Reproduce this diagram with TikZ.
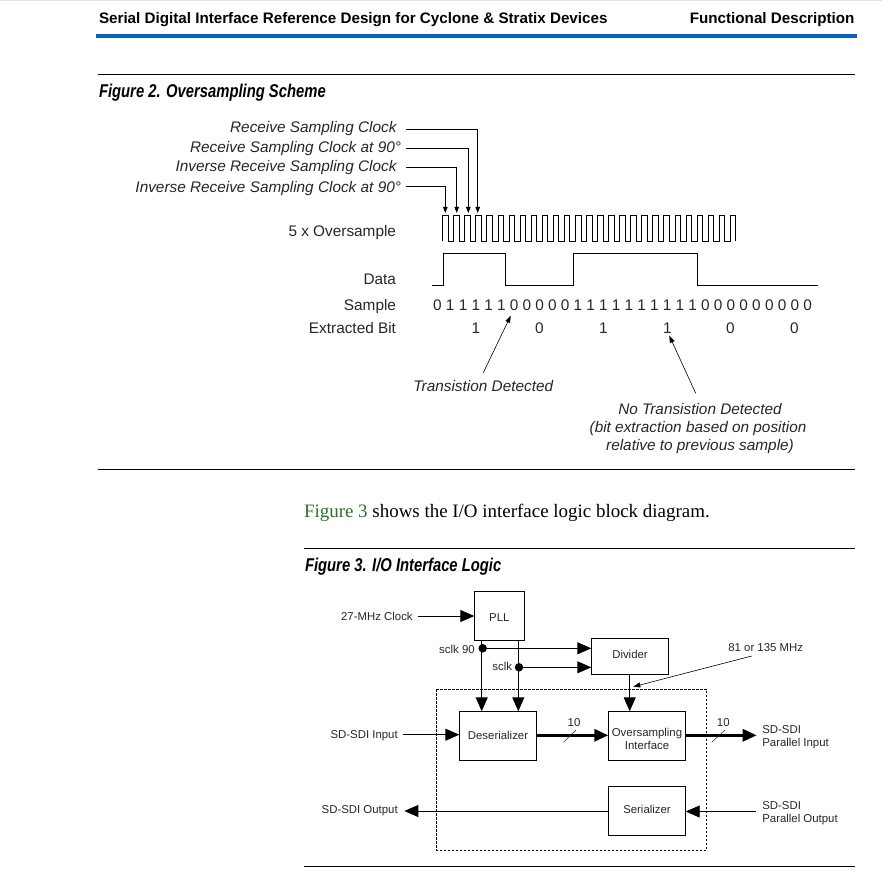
\documentclass[tikz,border=0pt]{standalone}
\usepackage{fontspec}
\setmainfont{Liberation Sans}
\newfontfamily\narrowfig[FakeStretch=0.8]{Liberation Sans}
\newfontfamily\bodyserif{Liberation Serif}
\usetikzlibrary{arrows.meta,calc}
\definecolor{ink}{gray}{0.15}
\definecolor{rulebar}{HTML}{0A62C0}
\definecolor{linkgreen}{HTML}{2F6F2F}
\tikzset{
  x=1pt,y=-1pt,
  every node/.style={inner sep=0pt,outer sep=0pt,text=ink},
  figa/.style={yshift=-3pt,font=\fontsize{15.35}{18}\selectfont},
  figai/.style={yshift=-3pt,font=\fontsize{15.35}{18}\selectfont\itshape},
  figb/.style={yshift=-2pt,font=\fontsize{11.4}{13}\selectfont},
  wire/.style={draw=black,line width=0.9pt},
  thinarrow/.style={wire,-{Triangle[length=6pt,width=4.5pt]}},
  bigarrow/.style={wire,-{Triangle[length=14pt,width=12pt]}},
  thickarrow/.style={draw=black,line width=3pt,-{Triangle[length=14pt,width=12pt]}},
  pointer/.style={draw=black,line width=0.6pt,-{Triangle[length=7pt,width=5pt]}},
  blockbox/.style={draw=black,line width=0.9pt,font=\fontsize{11.4}{13}\selectfont,anchor=north west,align=center},
  rulel/.style={draw=black,line width=1pt},
  dotmark/.style={circle,fill=black,minimum size=8.5pt},
  figtitle/.style={yshift=-3.5pt,anchor=mid west,text=black,font=\fontsize{18.5}{20}\narrowfig\bfseries\itshape},
  headtext/.style={yshift=-3pt,text=black,font=\fontsize{15.2}{17}\selectfont\bfseries},
}
\begin{document}
\begin{tikzpicture}
\useasboundingbox (0,0) rectangle (882,877);
\fill[gray!25] (0,0) rectangle (882,1.2);
% header
\node[headtext,anchor=mid west] (hleft) at (99,18) {Serial Digital Interface Reference Design for Cyclone \& Stratix Devices};
\node[headtext,anchor=mid east] (hright) at (854.5,18) {Functional Description};
\fill[rulebar] (96,34) rectangle (857,38);
\draw[rulel] (98,74.4) -- (855,74.4);
\node[figtitle] (t2) at (99,91) {Figure 2. Oversampling Scheme};
% figure 2 labels
\node[figai,anchor=mid east] (c1) at (396.5,127) {Receive Sampling Clock};
\node[figai,anchor=mid east] (c2) at (401,147) {Receive Sampling Clock at 90°};
\node[figai,anchor=mid east] (c3) at (396.5,166) {Inverse Receive Sampling Clock};
\node[figai,anchor=mid east] (c4) at (401,187) {Inverse Receive Sampling Clock at 90°};
\coordinate (c1s) at (406,129.3); \coordinate (c1t) at (477.7,213);
\coordinate (c2s) at (406,148.3); \coordinate (c2t) at (468.3,213);
\coordinate (c3s) at (406,167.3); \coordinate (c3t) at (456.7,213);
\coordinate (c4s) at (406,186.7); \coordinate (c4t) at (445.3,213);
\draw[thinarrow] (c1s) -| (c1t);
\draw[thinarrow] (c2s) -| (c2t);
\draw[thinarrow] (c3s) -| (c3t);
\draw[thinarrow] (c4s) -| (c4t);
% waveforms
\node[figa,anchor=mid east] (over) at (396,231) {5 x Oversample};
\draw[wire,line join=miter] (442.7,241)
  \foreach \i in {0,...,25} {-- ++(0,-25.3) -- ++(5.53,0) -- ++(0,25.3) -- ++(5.53,0)}
  -- ++(0,-25.3) -- ++(5.53,0) -- ++(0,25.3);
\node[figa,anchor=mid east] (datal) at (396,279) {Data};
\draw[wire] (432.3,285.7) -- (443.3,285.7) -- (443.3,253.7) -- (505.3,253.7) -- (505.3,285.7)
  -- (573.3,285.7) -- (573.3,253.7) -- (697.3,253.7) -- (697.3,285.7) -- (818.3,285.7);
\node[figa,anchor=mid east] (samplel) at (396,305) {Sample};
\foreach \v [count=\i from 0] in {0,1,1,1,1,1,0,0,0,0,0,1,1,1,1,1,1,1,1,1,1,0,0,0,0,0,0,0,0,0}
  \node[figa,anchor=mid] (s\i) at ({437.5+\i*12.76},305) {\v};
\node[figa,anchor=mid east] (extl) at (396,328) {Extracted Bit};
\node[figa,anchor=mid] (b1) at (476,328) {1};
\node[figa,anchor=mid] (b2) at (539.5,328) {0};
\node[figa,anchor=mid] (b3) at (603.3,328) {1};
\node[figa,anchor=mid] (b4) at (667.3,328) {1};
\node[figa,anchor=mid] (b5) at (730.3,328) {0};
\node[figa,anchor=mid] (b6) at (794.5,328) {0};
% annotations
\node[figai,anchor=mid] (td) at (483.3,385.7) {Transistion Detected};
\node[figai,anchor=mid] (nt1) at (700,408.7) {No Transistion Detected};
\node[figai,anchor=mid] (nt2) at (698,427) {(bit extraction based on position};
\node[figai,anchor=mid] (nt3) at (700,445) {relative to previous sample)};
\coordinate (tds) at (483.3,372.7); \coordinate (tdt) at (510.7,315.7);
\coordinate (nts) at (695.7,393.3); \coordinate (ntt) at (669.3,335.7);
\draw[pointer] (tds) -- (tdt);
\draw[pointer] (nts) -- (ntt);
\draw[rulel] (98,469) -- (855,469);
% body line
\node[yshift=-3pt,anchor=mid west,text=black,font=\fontsize{18.95}{22}\bodyserif] (body) at (304,511.5) {\textcolor{linkgreen}{Figure 3} shows the I/O interface logic block diagram.};
\draw[rulel] (304,548) -- (855,548);
\node[figtitle] (t3) at (305,565) {Figure 3. I/O Interface Logic};
% figure 3
\draw[draw=black,line width=0.8pt,dash pattern=on 2.6pt off 1.4pt] (436.3,689.3) rectangle (706.7,850);
\node[blockbox,minimum width=50pt,minimum height=48.6pt] (pll) at (474.3,591.7) {\rule{0pt}{10pt}PLL};
\node[blockbox,minimum width=77.4pt,minimum height=35.6pt] (div) at (591.3,638.7) {\rule[-4pt]{0pt}{4pt}Divider};
\node[blockbox,minimum width=77.4pt,minimum height=49pt] (des) at (459.3,711.3) {Deserializer};
\node[blockbox,minimum width=77.4pt,minimum height=49pt] (ovs) at (608.3,711.3) {\rule{0pt}{14pt}Oversampling\\Interface};
\node[blockbox,minimum width=77.4pt,minimum height=49pt] (ser) at (608.3,786.3) {\rule[-2pt]{0pt}{2pt}Serializer};
\node[figb,anchor=mid east] (clk) at (412.7,616) {27-MHz Clock};
\coordinate (clks) at (418.3,616);
\draw[bigarrow] (clks) -- (clks -| pll.west);
\coordinate (v90) at (481.7,648.3);
\coordinate (vs) at (518.3,667.3);
\draw[bigarrow] (v90 |- pll.south) -- (v90 |- des.north);
\draw[bigarrow] (vs |- pll.south) -- (vs |- des.north);
\node[dotmark,xshift=1pt] (d90) at (v90) {};
\node[dotmark,xshift=0.7pt] (ds) at (vs) {};
\draw[bigarrow] (d90.center) -- (v90 -| div.west);
\draw[bigarrow] (ds.center) -- (vs -| div.west);
\node[figb,anchor=mid east] (l90) at (474.7,649) {sclk 90};
\node[figb,anchor=mid east] (ls) at (512,666) {sclk};
\node[figb,anchor=mid east] (sdi) at (397.7,734) {SD-SDI Input};
\coordinate (sdis) at (403.3,734.7);
\draw[bigarrow] (sdis) -- (sdis -| des.west);
\coordinate (thick1) at (536.7,735.3);
\draw[thickarrow] (thick1) -- (thick1 -| ovs.west);
\node[figb,anchor=mid] (ten1) at (574,722.3) {10};
\draw[draw=ink,line width=0.5pt] (563.3,742.3) -- (576,730);
\coordinate (dv) at (629.7,700);
\draw[bigarrow] (dv |- div.south) -- (dv |- ovs.north);
\node[figb,anchor=mid] (mhz) at (765.7,647.3) {81 or 135 MHz};
\coordinate (mhzs) at (751.7,656); \coordinate (mhzt) at (633.3,686.7);
\draw[pointer] (mhzs) -- (mhzt);
\coordinate (thick2e) at (756.7,735.3);
\draw[thickarrow] (thick2e -| ovs.east) -- (thick2e);
\node[figb,anchor=mid] (ten2) at (723.3,722.3) {10};
\draw[draw=ink,line width=0.5pt] (711.7,742.3) -- (725,730);
\node[figb,anchor=mid west] (pi1) at (762.3,729.3) {SD-SDI};
\node[figb,anchor=mid west] (pi2) at (762.3,742) {Parallel Input};
\node[figb,anchor=mid west] (po1) at (762.3,805) {SD-SDI};
\node[figb,anchor=mid west] (po2) at (762.3,818.3) {Parallel Output};
\coordinate (pos) at (755.7,811.5);
\draw[bigarrow] (pos) -- (pos -| ser.east);
\node[figb,anchor=mid east] (sdo) at (397.7,809.3) {SD-SDI Output};
\coordinate (sdot) at (404.3,811);
\draw[bigarrow] (sdot -| ser.west) -- (sdot);
\draw[rulel] (304,866.5) -- (855,866.5);
\end{tikzpicture}
\end{document}
